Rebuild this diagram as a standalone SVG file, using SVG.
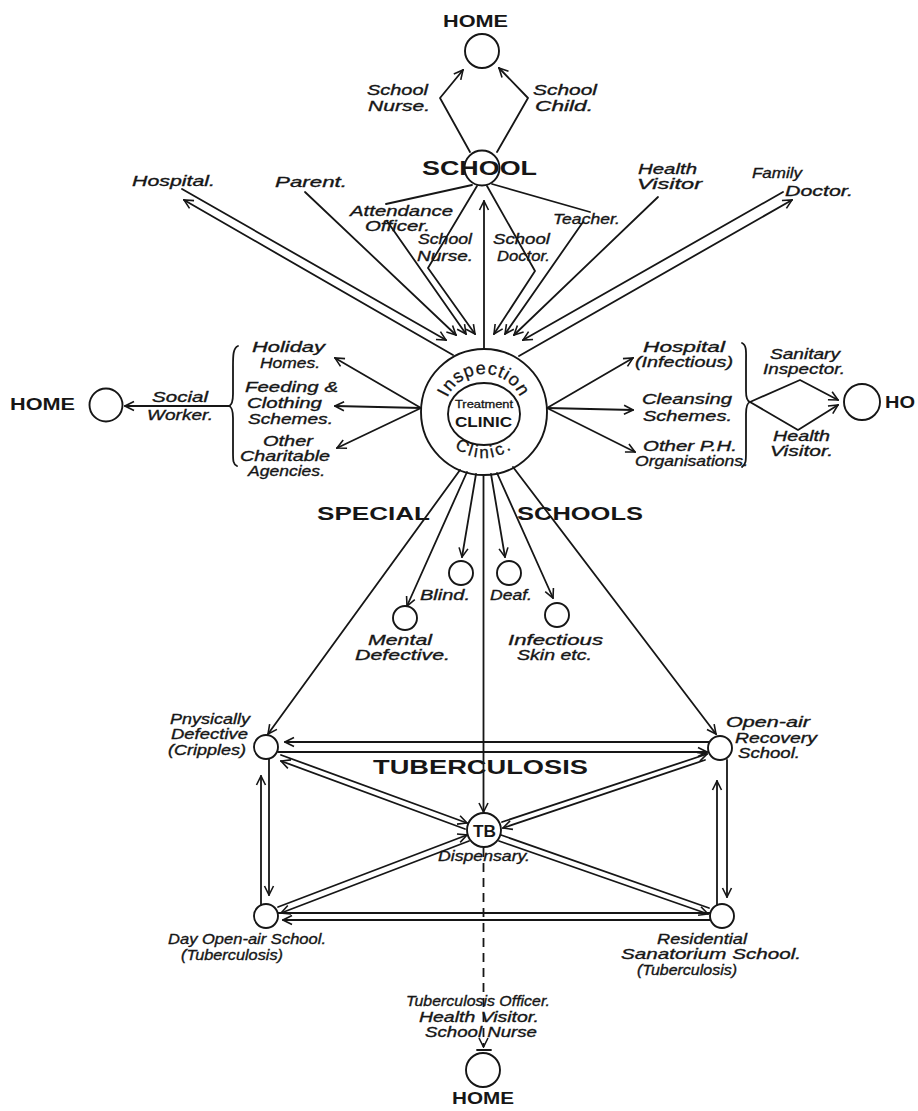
<svg xmlns="http://www.w3.org/2000/svg" width="918" height="1111" viewBox="0 0 918 1111">
<defs>
<style>
.ln{fill:none;stroke:#161616;stroke-width:1.8;stroke-linecap:round;stroke-linejoin:round}
.ar{marker-end:url(#ah)}
.ds{stroke-dasharray:9 6;stroke-linecap:butt}
.nd{fill:none;stroke:#161616;stroke-width:1.9}
.t{font-family:"Liberation Sans",Arial,sans-serif;font-style:italic;font-size:15px;fill:#161616;stroke:#161616;stroke-width:0.35}
.c{font-family:"Liberation Sans",Arial,sans-serif;font-weight:bold;fill:#161616}
.u{font-family:"Liberation Sans",Arial,sans-serif;fill:#161616;stroke:#161616;stroke-width:0.3}
</style>
<marker id="ah" viewBox="-11 -6 12 12" refX="0" refY="0" markerWidth="12" markerHeight="12" markerUnits="userSpaceOnUse" orient="auto"><path d="M-9,-4.5 L0,0 L-9,4.5" fill="none" stroke="#161616" stroke-width="1.6" stroke-linejoin="miter"/></marker>
<path id="arcTop" d="M444,414 A40,40 0 0 1 524,414"/>
<path id="arcBot" d="M438,412 A46,46 0 0 0 530,412"/>
</defs>
<rect width="918" height="1111" fill="#fff"/>

<g id="connectors">
<path class="ln ar" d="M470,152 L440,98 L463,70"/>
<path class="ln ar" d="M497,152 L528,98 L499,68"/>
<path class="ln ar" d="M182,189 L446,340"/>
<path class="ln ar" d="M453,355 L184,200"/>
<path class="ln ar" d="M305,192 L456,335"/>
<path class="ln" d="M472,185 L386,204"/>
<path class="ln ar" d="M387,221 L466,334"/>
<path class="ln ar" d="M477,186 L428,268 L475,334"/>
<path class="ln ar" d="M484,349 L484,201"/>
<path class="ln ar" d="M487,186 L535,271 L494,334"/>
<path class="ln" d="M492,184 L590,212"/>
<path class="ln ar" d="M583,222 L505,334"/>
<path class="ln ar" d="M658,197 L514,335"/>
<path class="ln ar" d="M783,192 L523,340"/>
<path class="ln ar" d="M519,356 L792,200"/>
<path class="ln ar" d="M421,408 L335,358"/>
<path class="ln ar" d="M421,408 L335,406"/>
<path class="ln ar" d="M421,408 L337,448"/>
<path class="ln ar" d="M230,406 L125,406"/>
<path class="ln" d="M238,346 C233,348 233,356 233,366 L233,394 C233,402 232,405 229,406 C232,407 233,410 233,418 L233,452 C233,461 233,464 237,466"/>
<path class="ln ar" d="M547,408 L633,358"/>
<path class="ln ar" d="M547,408 L633,410"/>
<path class="ln ar" d="M547,408 L635,452"/>
<path class="ln" d="M742,343 C747,345 746,353 746,363 L746,391 C746,398 747,401 750,402 C747,403 746,406 746,414 L746,452 C746,461 746,464 742,467"/>
<path class="ln ar" d="M750,402 L800,380 L838,400"/>
<path class="ln ar" d="M750,402 L798,430 L838,405"/>
<path class="ln ar" d="M460,470 L268,734"/>
<path class="ln ar" d="M467,472 L407,606"/>
<path class="ln ar" d="M476,474 L462,557"/>
<path class="ln ar" d="M483.5,475 L483.5,812"/>
<path class="ln ar" d="M491,474 L505,557"/>
<path class="ln ar" d="M497,473 L553,598"/>
<path class="ln ar" d="M513,467 L716,734"/>
<path class="ln ar" d="M709,742 L285,742"/>
<path class="ln ar" d="M278,752 L707,752"/>
<path class="ln ar" d="M281,755 L467,823"/>
<path class="ln ar" d="M465,829 L281,761"/>
<path class="ln ar" d="M502,822 L707,754"/>
<path class="ln ar" d="M705,760 L503,828"/>
<path class="ln ar" d="M278,907 L467,835"/>
<path class="ln ar" d="M469,841 L281,913"/>
<path class="ln" d="M501,835 L709,908"/>
<path class="ln ar" d="M499,841 L708,914"/>
<path class="ln" d="M278,913 L710,913"/>
<path class="ln ar" d="M710,920 L283,920"/>
<path class="ln ar" d="M261,905 L261,776"/>
<path class="ln ar" d="M269,759 L269,895"/>
<path class="ln ar" d="M717,905 L717,781"/>
<path class="ln ar" d="M727,760 L727,897"/>
<path class="ln ds ar" d="M483.5,848 L483.5,1047"/>
<path class="ln" d="M477,1050 L491,1050"/>
</g>

<g id="home-top">
<circle class="nd" cx="482" cy="51" r="17"/>
<text class="c" x="443" y="27" font-size="17" textLength="65" lengthAdjust="spacingAndGlyphs">HOME</text>
</g>
<g id="lbl-school-nurse"><text class="t" x="367" y="95" font-size="14" textLength="61" lengthAdjust="spacingAndGlyphs">School</text><text class="t" x="368" y="111" font-size="14" textLength="62" lengthAdjust="spacingAndGlyphs">Nurse.</text></g>
<g id="lbl-school-child"><text class="t" x="533" y="95" font-size="14" textLength="64" lengthAdjust="spacingAndGlyphs">School</text><text class="t" x="535" y="111" font-size="14" textLength="58" lengthAdjust="spacingAndGlyphs">Child.</text></g>
<g id="school">
<circle class="nd" cx="482" cy="168" r="17.5"/>
<text class="c" x="422" y="175" font-size="19.5" textLength="115" lengthAdjust="spacingAndGlyphs">SCHOOL</text>
</g>

<g id="hospital"><text class="t" x="132" y="186" textLength="83" lengthAdjust="spacingAndGlyphs">Hospital.</text></g>
<g id="parent"><text class="t" x="275" y="187" textLength="72" lengthAdjust="spacingAndGlyphs">Parent.</text></g>
<g id="attendance-officer"><text class="t" x="350" y="216" textLength="103" lengthAdjust="spacingAndGlyphs">Attendance</text><text class="t" x="365" y="231" textLength="65" lengthAdjust="spacingAndGlyphs">Officer.</text></g>
<g id="school-nurse"><text class="t" x="418" y="244" textLength="54" lengthAdjust="spacingAndGlyphs">School</text><text class="t" x="417" y="261" textLength="56" lengthAdjust="spacingAndGlyphs">Nurse.</text></g>
<g id="school-doctor"><text class="t" x="493" y="244" textLength="57" lengthAdjust="spacingAndGlyphs">School</text><text class="t" x="497" y="261" textLength="53" lengthAdjust="spacingAndGlyphs">Doctor.</text></g>
<g id="teacher"><text class="t" x="553" y="224" textLength="67" lengthAdjust="spacingAndGlyphs">Teacher.</text></g>
<g id="health-visitor"><text class="t" x="638" y="174" textLength="59" lengthAdjust="spacingAndGlyphs">Health</text><text class="t" x="637" y="189" textLength="65" lengthAdjust="spacingAndGlyphs">Visitor</text></g>
<g id="family-doctor"><text class="t" x="752" y="178" textLength="50" lengthAdjust="spacingAndGlyphs">Family</text><text class="t" x="785" y="196" textLength="68" lengthAdjust="spacingAndGlyphs">Doctor.</text></g>

<g id="clinic">
<circle class="nd" cx="484" cy="412" r="63"/>
<ellipse class="nd" cx="484" cy="414" rx="36" ry="31"/>
<text class="u" font-size="18" letter-spacing="1"><textPath href="#arcTop" startOffset="50%" text-anchor="middle">Inspection</textPath></text>
<text class="u" font-size="17" letter-spacing="2.5"><textPath href="#arcBot" startOffset="50%" text-anchor="middle">Clinic.</textPath></text>
<text class="u" x="455" y="408" font-size="10" stroke-width="0.15" textLength="58" lengthAdjust="spacingAndGlyphs">Treatment</text>
<text class="c" x="455" y="427" font-size="15" textLength="57" lengthAdjust="spacingAndGlyphs">CLINIC</text>
</g>

<g id="home-left">
<circle class="nd" cx="106" cy="405" r="16.5"/>
<text class="c" x="10" y="410" font-size="17" textLength="65" lengthAdjust="spacingAndGlyphs">HOME</text>
</g>
<g id="social-worker"><text class="t" x="152" y="402" textLength="56" lengthAdjust="spacingAndGlyphs">Social</text><text class="t" x="147" y="420" textLength="66" lengthAdjust="spacingAndGlyphs">Worker.</text></g>
<g id="holiday-homes"><text class="t" x="252" y="352" textLength="73" lengthAdjust="spacingAndGlyphs">Holiday</text><text class="t" x="260" y="368" textLength="60" lengthAdjust="spacingAndGlyphs">Homes.</text></g>
<g id="feeding-clothing"><text class="t" x="245" y="392" textLength="93" lengthAdjust="spacingAndGlyphs">Feeding &amp;</text><text class="t" x="247" y="408" textLength="75" lengthAdjust="spacingAndGlyphs">Clothing</text><text class="t" x="248" y="424" textLength="85" lengthAdjust="spacingAndGlyphs">Schemes.</text></g>
<g id="charitable"><text class="t" x="263" y="446" textLength="50" lengthAdjust="spacingAndGlyphs">Other</text><text class="t" x="240" y="461" textLength="90" lengthAdjust="spacingAndGlyphs">Charitable</text><text class="t" x="248" y="476" textLength="77" lengthAdjust="spacingAndGlyphs">Agencies.</text></g>

<g id="hospital-infectious"><text class="t" x="643" y="352" textLength="82" lengthAdjust="spacingAndGlyphs">Hospital</text><text class="t" x="635" y="367" textLength="98" lengthAdjust="spacingAndGlyphs">(Infectious)</text></g>
<g id="cleansing"><text class="t" x="642" y="404" textLength="90" lengthAdjust="spacingAndGlyphs">Cleansing</text><text class="t" x="643" y="421" textLength="89" lengthAdjust="spacingAndGlyphs">Schemes.</text></g>
<g id="other-ph"><text class="t" x="643" y="451" textLength="94" lengthAdjust="spacingAndGlyphs">Other P.H.</text><text class="t" x="635" y="466" textLength="113" lengthAdjust="spacingAndGlyphs">Organisations.</text></g>
<g id="sanitary-inspector"><text class="t" x="770" y="359" textLength="70" lengthAdjust="spacingAndGlyphs">Sanitary</text><text class="t" x="763" y="374" textLength="82" lengthAdjust="spacingAndGlyphs">Inspector.</text></g>
<g id="health-visitor-right"><text class="t" x="773" y="441" textLength="57" lengthAdjust="spacingAndGlyphs">Health</text><text class="t" x="770" y="456" textLength="63" lengthAdjust="spacingAndGlyphs">Visitor.</text></g>
<g id="home-right">
<circle class="nd" cx="862" cy="402" r="18"/>
<text class="c" x="885" y="408" font-size="17" textLength="30" lengthAdjust="spacingAndGlyphs">HO</text>
</g>

<g id="special-schools">
<text class="c" x="317" y="520" font-size="18" textLength="113" lengthAdjust="spacingAndGlyphs">SPECIAL</text>
<text class="c" x="517" y="520" font-size="18" textLength="126" lengthAdjust="spacingAndGlyphs">SCHOOLS</text>
</g>
<g id="mental"><circle class="nd" cx="405" cy="618" r="12"/><text class="t" x="368" y="645" textLength="64" lengthAdjust="spacingAndGlyphs">Mental</text><text class="t" x="355" y="660" textLength="95" lengthAdjust="spacingAndGlyphs">Defective.</text></g>
<g id="blind"><circle class="nd" cx="461" cy="573" r="12"/><text class="t" x="420" y="600" textLength="50" lengthAdjust="spacingAndGlyphs">Blind.</text></g>
<g id="deaf"><circle class="nd" cx="509" cy="573" r="12"/><text class="t" x="490" y="600" textLength="42" lengthAdjust="spacingAndGlyphs">Deaf.</text></g>
<g id="infectious"><circle class="nd" cx="557" cy="615" r="12"/><text class="t" x="508" y="645" textLength="95" lengthAdjust="spacingAndGlyphs">Infectious</text><text class="t" x="517" y="660" textLength="75" lengthAdjust="spacingAndGlyphs">Skin etc.</text></g>

<g id="physically-defective"><circle class="nd" cx="266" cy="747" r="12"/><text class="t" x="170" y="724" textLength="80" lengthAdjust="spacingAndGlyphs">Pnysically</text><text class="t" x="171" y="739" textLength="77" lengthAdjust="spacingAndGlyphs">Defective</text><text class="t" x="168" y="755" textLength="78" lengthAdjust="spacingAndGlyphs">(Cripples)</text></g>
<g id="open-air-recovery"><circle class="nd" cx="720" cy="748" r="12"/><text class="t" x="726" y="727" textLength="84" lengthAdjust="spacingAndGlyphs">Open-air</text><text class="t" x="735" y="743" textLength="82" lengthAdjust="spacingAndGlyphs">Recovery</text><text class="t" x="738" y="758" textLength="62" lengthAdjust="spacingAndGlyphs">School.</text></g>
<g id="tuberculosis"><text class="c" x="373" y="774" font-size="20" textLength="215" lengthAdjust="spacingAndGlyphs">TUBERCULOSIS</text></g>
<g id="tb-dispensary"><circle cx="484" cy="830" r="17" fill="#fff" stroke="#161616" stroke-width="1.9"/><text class="c" x="473" y="837" font-size="17" textLength="23" lengthAdjust="spacingAndGlyphs">TB</text><text class="t" x="438" y="861" textLength="92" lengthAdjust="spacingAndGlyphs">Dispensary.</text></g>
<g id="day-open-air"><circle class="nd" cx="266" cy="916" r="12"/><text class="t" x="168" y="944" textLength="158" lengthAdjust="spacingAndGlyphs">Day Open-air School.</text><text class="t" x="181" y="960" textLength="102" lengthAdjust="spacingAndGlyphs">(Tuberculosis)</text></g>
<g id="residential"><circle class="nd" cx="722" cy="916" r="12"/><text class="t" x="657" y="944" textLength="90" lengthAdjust="spacingAndGlyphs">Residential</text><text class="t" x="621" y="959" textLength="180" lengthAdjust="spacingAndGlyphs">Sanatorium  School.</text><text class="t" x="637" y="975" textLength="100" lengthAdjust="spacingAndGlyphs">(Tuberculosis)</text></g>
<g id="tb-visitors"><text class="t" x="406" y="1006" textLength="144" lengthAdjust="spacingAndGlyphs">Tuberculosis  Officer.</text><text class="t" x="419" y="1022" textLength="120" lengthAdjust="spacingAndGlyphs">Health  Visitor.</text><text class="t" x="425" y="1037" textLength="112" lengthAdjust="spacingAndGlyphs">School Nurse</text></g>
<g id="home-bottom">
<circle class="nd" cx="483" cy="1070" r="17"/>
<text class="c" x="452" y="1104" font-size="17" textLength="62" lengthAdjust="spacingAndGlyphs">HOME</text>
</g>
</svg>
